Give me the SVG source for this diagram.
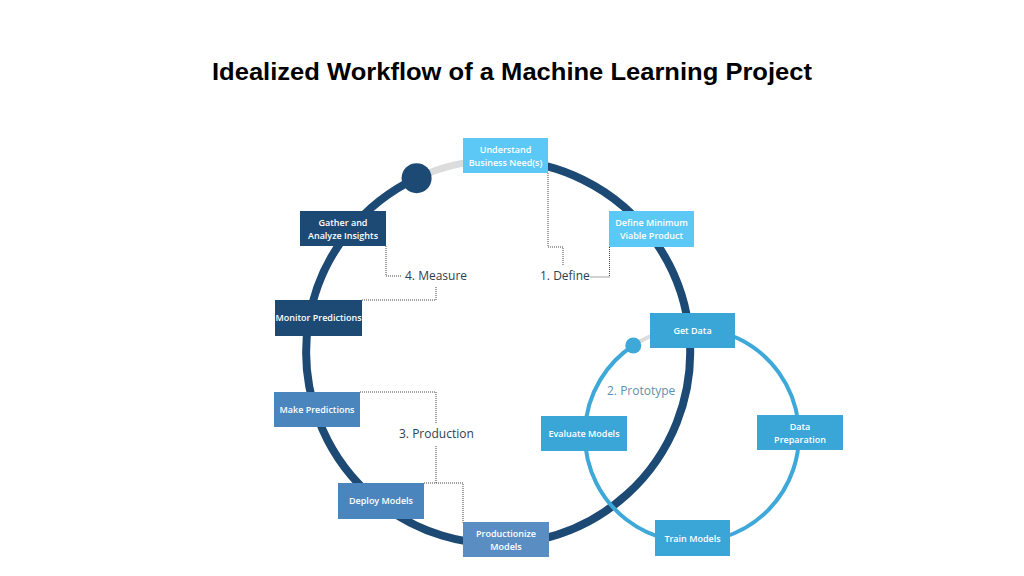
<svg xmlns="http://www.w3.org/2000/svg" width="1024" height="576" viewBox="0 0 1024 576">
<style>
.box text{font-family:"Open Sans","Noto Sans",sans-serif;font-size:9px;font-weight:600;fill:#ffffff;text-anchor:middle}
.lbl{font-family:"Open Sans","Noto Sans",sans-serif;font-size:12px;fill:#2d3e50}
.dot{fill:none;stroke:#444;stroke-width:1;stroke-dasharray:1 1}
.navy{fill:#1d4a74}.mid{fill:#4a86bd}.prod{fill:#5a8ec3}.sky{fill:#5cc8f6}.teal{fill:#3aa6d8}
</style>
<rect width="1024" height="576" fill="#ffffff"/>
<text x="512" y="80" text-anchor="middle" font-family="Liberation Sans, Arial, sans-serif" font-size="24" font-weight="bold" fill="#000" textLength="600" lengthAdjust="spacingAndGlyphs">Idealized Workflow of a Machine Learning Project</text>
<g id="connectors">
<path d="M416.6 178.2 A192 192 0 0 1 498 160" fill="none" stroke="#dcdcdc" stroke-width="7"/>
<path d="M498 160 A192 192 0 1 1 416.6 178.2" fill="none" stroke="#1d4a74" stroke-width="8"/>
<circle cx="416.6" cy="178.2" r="15" fill="#1d4a74"/>
<path d="M633.3 345.5 A107 107 0 0 1 692 328" fill="none" stroke="#dcdcdc" stroke-width="4"/>
<path d="M692 328 A107 107 0 1 1 633.3 345.5" fill="none" stroke="#3ea8d8" stroke-width="4"/>
<circle cx="633.3" cy="345.5" r="8" fill="#3ea8d8"/>
<path class="dot" d="M548 173 V247 H563 V266"/>
<path class="dot" d="M609.5 247 V277 H590"/>
<path class="dot" d="M386 246 V276 H402"/>
<path class="dot" d="M362 300 H436 V286"/>
<path class="dot" d="M360 392 H436 V424 M436 446 V483 M424 483 H463 V523"/>
</g>
<text class="lbl" x="540" y="280">1. Define</text>
<text class="lbl" x="405" y="280">4. Measure</text>
<text class="lbl" x="399" y="438">3. Production</text>
<text class="lbl" x="607" y="395" style="fill:#5e8fae">2. Prototype</text>
<g id="understand" class="box"><rect class="sky" x="463" y="138" width="85" height="35"/><text x="505.5" y="153">Understand</text><text x="505.5" y="166">Business Need(s)</text></g>
<g id="mvp" class="box"><rect class="sky" x="609" y="211" width="85" height="36"/><text x="651.5" y="226">Define Minimum</text><text x="651.5" y="239">Viable Product</text></g>
<g id="getdata" class="box"><rect class="teal" x="650" y="313" width="85" height="35"/><text x="692.5" y="334">Get Data</text></g>
<g id="dataprep" class="box"><rect class="teal" x="757" y="415" width="86" height="35"/><text x="800" y="430">Data</text><text x="800" y="443">Preparation</text></g>
<g id="train" class="box"><rect class="teal" x="655" y="520" width="75" height="36"/><text x="692.5" y="542">Train Models</text></g>
<g id="evaluate" class="box"><rect class="teal" x="541" y="416" width="86" height="35"/><text x="584" y="437">Evaluate Models</text></g>
<g id="gather" class="box"><rect class="navy" x="300" y="211" width="86" height="35"/><text x="343" y="226">Gather and</text><text x="343" y="239">Analyze Insights</text></g>
<g id="monitor" class="box"><rect class="navy" x="275" y="300" width="87" height="36"/><text x="318.5" y="321">Monitor Predictions</text></g>
<g id="make" class="box"><rect class="mid" x="274" y="392" width="86" height="35"/><text x="317" y="413">Make Predictions</text></g>
<g id="deploy" class="box"><rect class="mid" x="338" y="483" width="86" height="36"/><text x="381" y="504">Deploy Models</text></g>
<g id="productionize" class="box"><rect class="prod" x="463" y="522" width="86" height="35"/><text x="506" y="537">Productionize</text><text x="506" y="550">Models</text></g>
</svg>
